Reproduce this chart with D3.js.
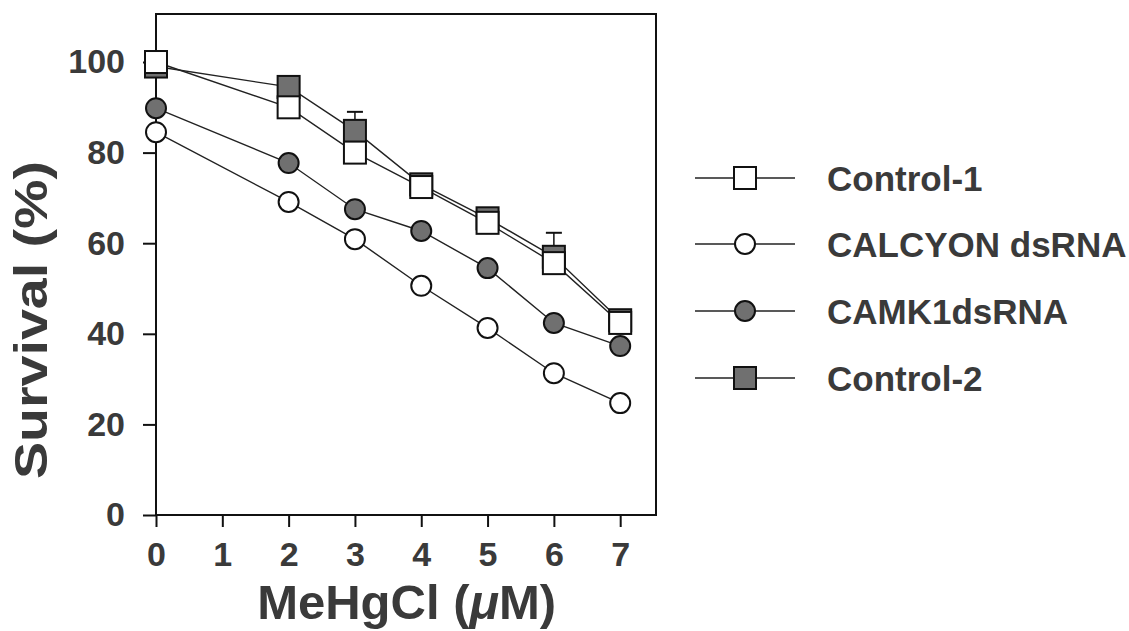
<!DOCTYPE html>
<html>
<head>
<meta charset="utf-8">
<script src="https://cdn.jsdelivr.net/npm/d3@7"></script>
<style>
  body { margin: 0; background: #fff; }
  text { font-family: "Liberation Sans", Arial, sans-serif; font-weight: bold; fill: #3a3a3a; }
</style>
</head>
<body>
<div id="chart"></div>
<script>
// MeHgCl concentration (uM)
var doses = [0, 2, 3, 4, 5, 6, 7];
var xTicks = [0, 1, 2, 3, 4, 5, 6, 7];
var yTicks = [0, 20, 40, 60, 80, 100];

// survival (%) per series
var control1 = [100, 90, 80, 72.4, 64.5, 55.6, 42.4];
var calcyon = [84.5, 69.1, 60.9, 50.6, 41.3, 31.3, 24.7];
var camk1 = [89.8, 77.7, 67.5, 62.7, 54.5, 42.4, 37.3];
var control2 = [99, 94.5, 84.8, 73, 65.5, 57, 43];
// upper error bars on Control-2 (only two are visible)
var control2Err = [0, 0, 4.2, 0, 0, 5.3, 0];

var seriesNames = ["Control-1", "CALCYON dsRNA", "CAMK1dsRNA", "Control-2"];
var seriesShapes = ["square", "circle", "circle", "square"];
var seriesFilled = [false, false, true, true];

var width = 1129, height = 631;
var svg = d3.select("#chart").append("svg")
    .attr("width", width)
    .attr("height", height);

var x = d3.scaleLinear().domain([0, 7.54]).range([156, 656]);
var y = d3.scaleLinear().domain([0, 110.6]).range([515, 14]);

var GREY = "#707070";

// plot frame
svg.append("rect")
    .attr("x", x(0)).attr("y", y(110.6))
    .attr("width", x(7.54) - x(0)).attr("height", y(0) - y(110.6))
    .attr("fill", "none").attr("stroke", "#111").attr("stroke-width", 2);

var yAxis = svg.append("g")
    .attr("transform", "translate(" + x(0) + ",0)")
    .call(d3.axisLeft(y).tickValues(yTicks).tickSize(13).tickPadding(18));
var xAxis = svg.append("g")
    .attr("transform", "translate(0," + y(0) + ")")
    .call(d3.axisBottom(x).tickValues(xTicks).tickSize(12).tickPadding(15));

[xAxis, yAxis].forEach(function(a) {
    a.select(".domain").remove();
    a.selectAll("line").attr("stroke", "#111").attr("stroke-width", 2);
    a.selectAll("text").style("font-size", "34px").attr("fill", "#3a3a3a");
});

// axis titles
var xt = svg.append("text")
    .attr("x", x(3.78)).attr("y", 619)
    .attr("text-anchor", "middle")
    .style("font-size", "49px");
xt.append("tspan").text("MeHgCl (");
xt.append("tspan").style("font-style", "italic").text("\u03BC");
xt.append("tspan").text("M)");

svg.append("text")
    .attr("transform", "translate(47,320) rotate(-90)")
    .attr("text-anchor", "middle")
    .attr("textLength", 318)
    .attr("lengthAdjust", "spacingAndGlyphs")
    .style("font-size", "46px")
    .text("Survival (%)");

function drawMarker(g, shape, filled, cx, cy) {
    if (shape == "square") {
        g.append("rect")
            .attr("x", cx - 11).attr("y", cy - 11)
            .attr("width", 22).attr("height", 22)
            .attr("fill", filled ? GREY : "#fff")
            .attr("stroke", "#111").attr("stroke-width", 2);
    } else {
        g.append("circle")
            .attr("cx", cx).attr("cy", cy).attr("r", 10)
            .attr("fill", filled ? GREY : "#fff")
            .attr("stroke", "#111").attr("stroke-width", 2);
    }
}

var line = d3.line()
    .x(function(d) { return x(d.dose); })
    .y(function(d) { return y(d.value); });

function drawSeries(values, idx) {
    var pts = doses.map(function(d, i) { return {dose: d, value: values[i]}; });
    var g = svg.append("g");
    g.append("path")
        .datum(pts)
        .attr("d", line)
        .attr("fill", "none")
        .attr("stroke", "#222")
        .attr("stroke-width", 1.4);
    pts.forEach(function(p) {
        drawMarker(g, seriesShapes[idx], seriesFilled[idx], x(p.dose), y(p.value));
    });
    return g;
}

// error bars for Control-2 (upper only)
doses.forEach(function(d, i) {
    if (control2Err[i] > 0) {
        var top = y(control2[i] + control2Err[i]);
        svg.append("line")
            .attr("x1", x(d)).attr("x2", x(d))
            .attr("y1", y(control2[i])).attr("y2", top)
            .attr("stroke", "#111").attr("stroke-width", 1.5);
        svg.append("line")
            .attr("x1", x(d) - 8).attr("x2", x(d) + 8)
            .attr("y1", top).attr("y2", top)
            .attr("stroke", "#111").attr("stroke-width", 2);
    }
});

drawSeries(calcyon, 1);
drawSeries(camk1, 2);
drawSeries(control2, 3);
drawSeries(control1, 0);

// legend
var legendY = [178, 244, 311, 378];
seriesNames.forEach(function(name, i) {
    var g = svg.append("g");
    g.append("line")
        .attr("x1", 695).attr("x2", 795)
        .attr("y1", legendY[i]).attr("y2", legendY[i])
        .attr("stroke", "#222").attr("stroke-width", 1.5);
    drawMarker(g, seriesShapes[i], seriesFilled[i], 745, legendY[i]);
    g.append("text")
        .attr("x", 827).attr("y", legendY[i] + 13)
        .style("font-size", "35px")
        .text(name);
});
</script>
</body>
</html>
